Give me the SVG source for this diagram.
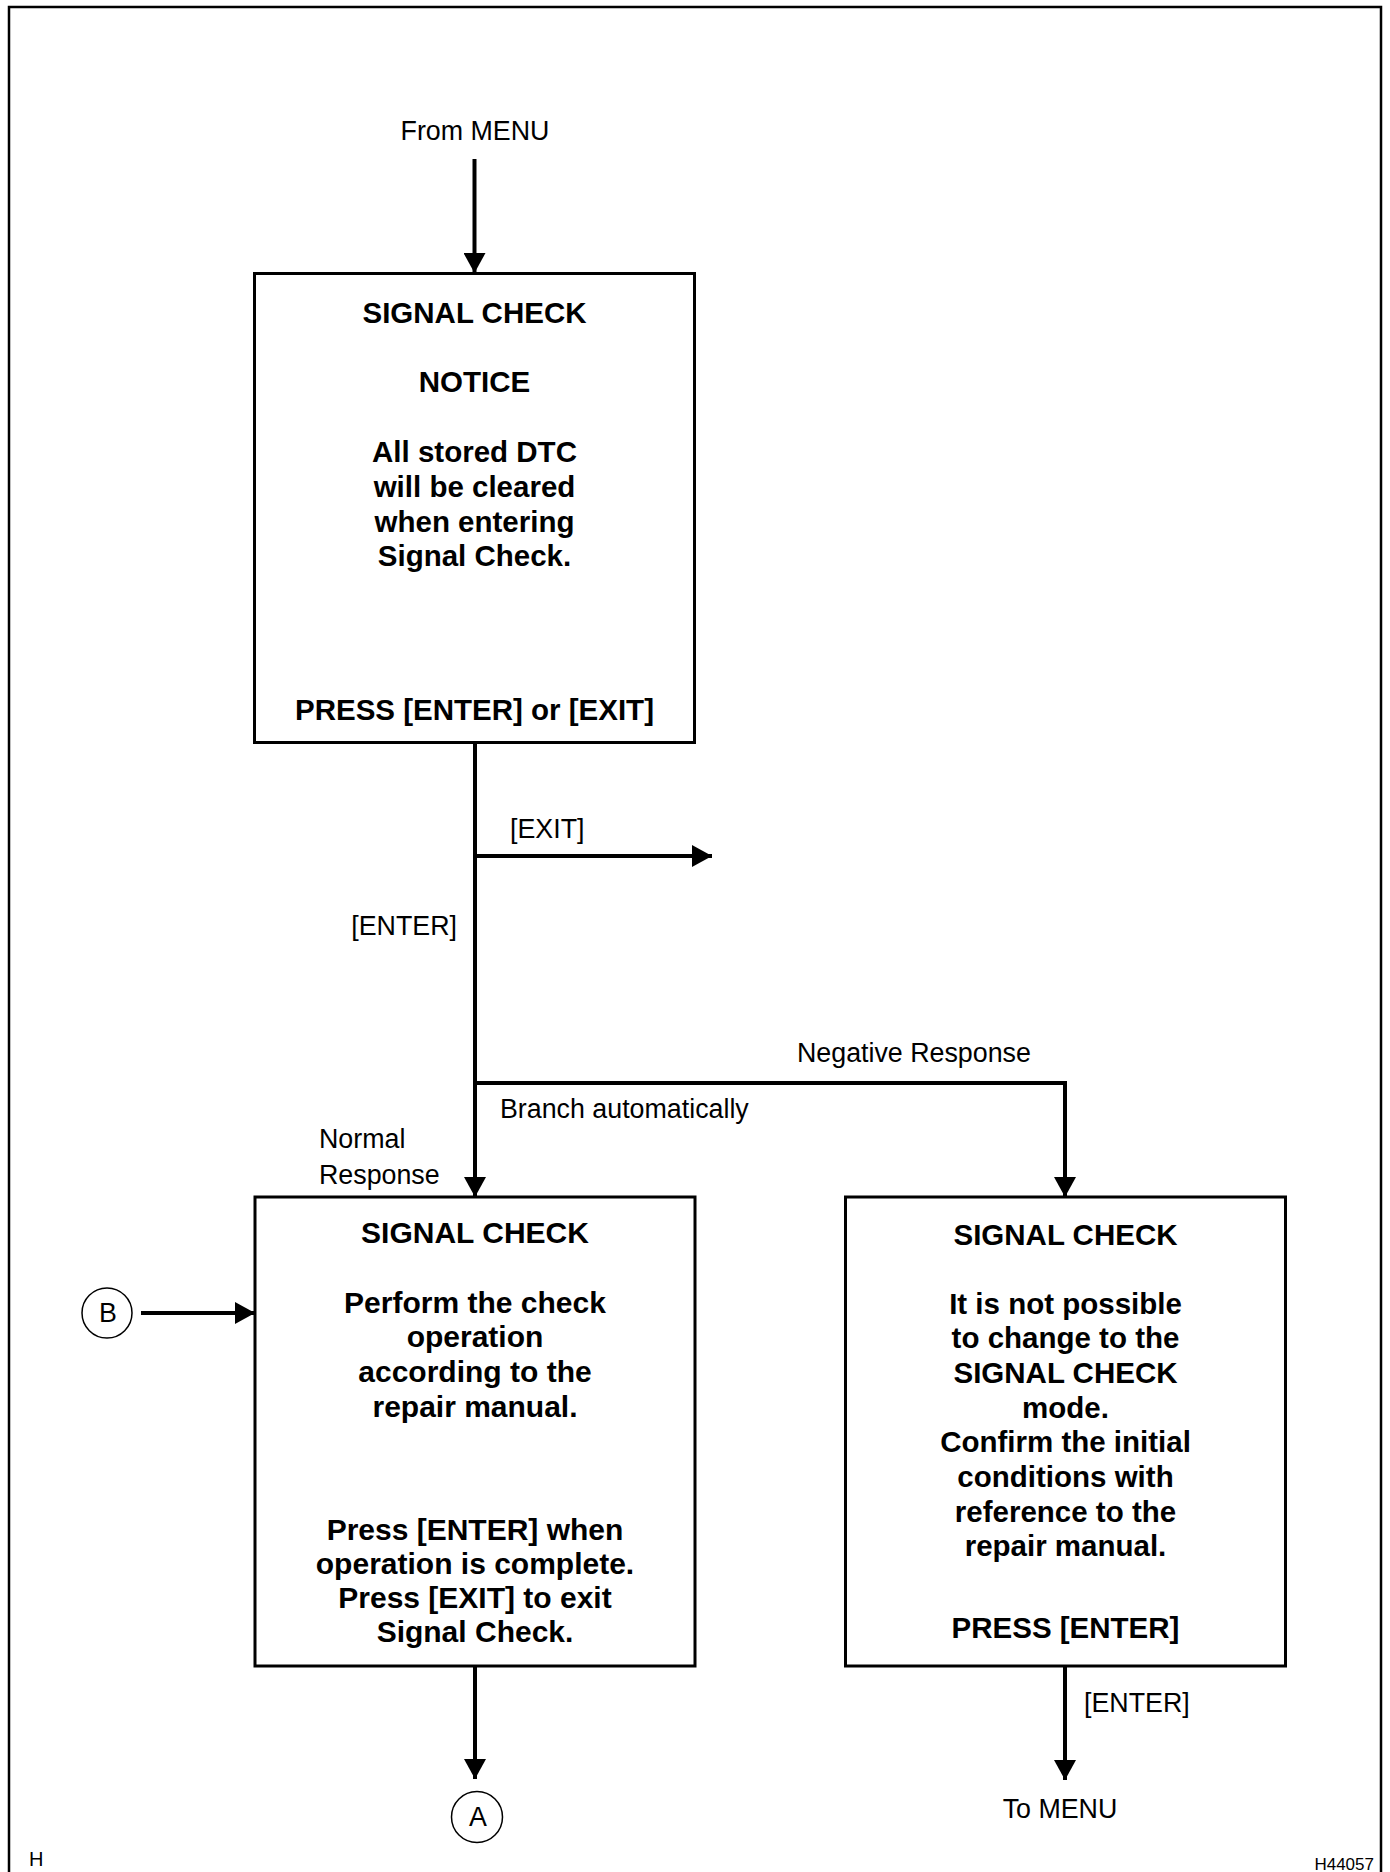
<svg xmlns="http://www.w3.org/2000/svg" width="1390" height="1872" viewBox="0 0 1390 1872">
<style>
.frame{fill:none;stroke:#000;stroke-width:2.5}
.box{fill:#fff;stroke:#000;stroke-width:3}
.ln{fill:none;stroke:#000;stroke-width:4}
.circ{fill:#fff;stroke:#000;stroke-width:1.5}
.b{font-family:"Liberation Sans",Arial,sans-serif;font-weight:bold;font-size:29.5px;text-anchor:middle;fill:#000}
.b2{font-size:30px}
.r{font-family:"Liberation Sans",Arial,sans-serif;font-size:26.8px;fill:#000}
.c{text-anchor:middle}
.e{text-anchor:end}
.s{font-family:"Liberation Sans",Arial,sans-serif;font-size:17px;fill:#000}
</style>
<defs>
<marker id="ah" markerWidth="20" markerHeight="22" refX="20" refY="11" orient="auto" markerUnits="userSpaceOnUse">
<path d="M0,0 L20,11 L0,22 Z" fill="#000"/>
</marker>
</defs>
<rect width="1390" height="1872" fill="#fff"/>
<path class="frame" d="M9,1872 V7 H1381 V1872"/>
<text class="s" x="29" y="1866" style="font-size:20px">H</text>
<text class="s e" x="1374" y="1870">H44057</text>

<g id="connectors">
<line class="ln" x1="474.5" y1="159" x2="474.5" y2="273" marker-end="url(#ah)"/>
<line class="ln" x1="475" y1="742" x2="475" y2="1197" marker-end="url(#ah)"/>
<line class="ln" x1="475" y1="856" x2="712" y2="856" marker-end="url(#ah)"/>
<polyline class="ln" points="475,1083 1065,1083 1065,1197" marker-end="url(#ah)"/>
<line class="ln" x1="141" y1="1313" x2="255" y2="1313" marker-end="url(#ah)"/>
<line class="ln" x1="475" y1="1667" x2="475" y2="1779" marker-end="url(#ah)"/>
<line class="ln" x1="1065" y1="1667" x2="1065" y2="1780" marker-end="url(#ah)"/>
<text class="r c" x="475" y="140">From MENU</text>
<text class="r" x="510" y="838">[EXIT]</text>
<text class="r e" x="457" y="935">[ENTER]</text>
<text class="r" x="797" y="1062">Negative Response</text>
<text class="r" x="500" y="1118">Branch automatically</text>
<text class="r" x="319" y="1148">Normal</text>
<text class="r" x="319" y="1184">Response</text>
<text class="r" x="1084" y="1712">[ENTER]</text>
<text class="r c" x="1060" y="1818">To MENU</text>
</g>

<g id="box1">
<rect class="box" x="254.5" y="273.5" width="440" height="469"/>
<text class="b" x="474.5" y="323">SIGNAL CHECK</text>
<text class="b" x="474.5" y="392">NOTICE</text>
<text class="b" x="474.5" y="462">All stored DTC</text>
<text class="b" x="474.5" y="497">will be cleared</text>
<text class="b" x="474.5" y="532">when entering</text>
<text class="b" x="474.5" y="566">Signal Check.</text>
<text class="b" x="474.5" y="720">PRESS [ENTER] or [EXIT]</text>
</g>

<g id="box2">
<rect class="box" x="255" y="1197" width="440" height="469"/>
<text class="b b2" x="475" y="1243">SIGNAL CHECK</text>
<text class="b b2" x="475" y="1313">Perform the check</text>
<text class="b b2" x="475" y="1347">operation</text>
<text class="b b2" x="475" y="1382">according to the</text>
<text class="b b2" x="475" y="1417">repair manual.</text>
<text class="b b2" x="475" y="1540">Press [ENTER] when</text>
<text class="b b2" x="475" y="1574">operation is complete.</text>
<text class="b b2" x="475" y="1608">Press [EXIT] to exit</text>
<text class="b b2" x="475" y="1642">Signal Check.</text>
</g>

<g id="box3">
<rect class="box" x="845.5" y="1197" width="440" height="469"/>
<text class="b" x="1065.5" y="1245">SIGNAL CHECK</text>
<text class="b" x="1065.5" y="1314">It is not possible</text>
<text class="b" x="1065.5" y="1348">to change to the</text>
<text class="b" x="1065.5" y="1383">SIGNAL CHECK</text>
<text class="b" x="1065.5" y="1418">mode.</text>
<text class="b" x="1065.5" y="1452">Confirm the initial</text>
<text class="b" x="1065.5" y="1487">conditions with</text>
<text class="b" x="1065.5" y="1522">reference to the</text>
<text class="b" x="1065.5" y="1556">repair manual.</text>
<text class="b" x="1065.5" y="1638">PRESS [ENTER]</text>
</g>

<g id="connB">
<circle class="circ" cx="107" cy="1313" r="25"/>
<text class="r c" x="108" y="1322">B</text>
</g>
<g id="connA">
<circle class="circ" cx="477" cy="1817" r="25.5"/>
<text class="r c" x="478" y="1826">A</text>
</g>
</svg>
